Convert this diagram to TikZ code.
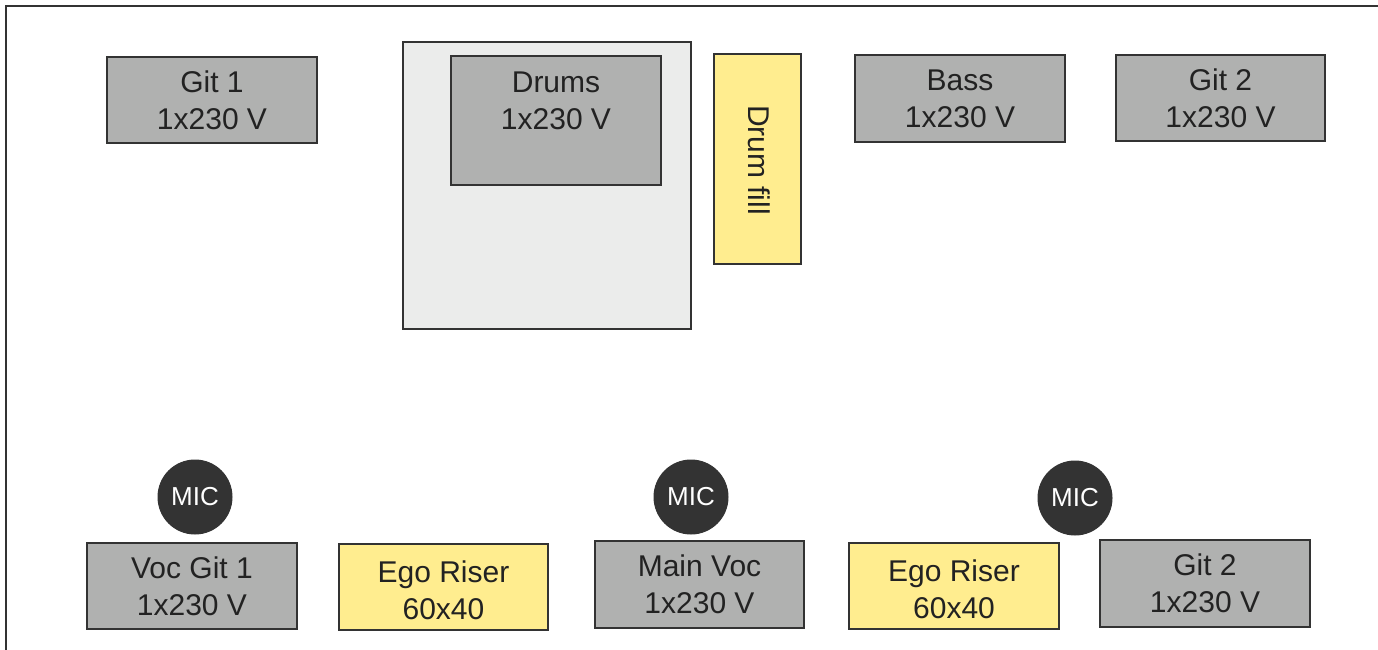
\documentclass[tikz,border=0pt]{standalone}
\usepackage{fontspec}
\setmainfont{Liberation Sans}
\definecolor{boxgray}{HTML}{B0B1B0}
\definecolor{rise}{HTML}{EBECEB}
\definecolor{fillyel}{HTML}{FFED8F}
\definecolor{edge}{HTML}{333333}
\definecolor{micfill}{HTML}{333333}
\definecolor{txt}{HTML}{222222}
\tikzset{
  base/.style={draw=edge, line width=1.4pt, inner sep=0pt, text=txt,
    font=\fontsize{30}{37}\selectfont, align=center},
  amp/.style={base, fill=boxgray, rectangle},
  yel/.style={base, fill=fillyel, rectangle},
  micnode/.style={draw=edge, line width=1pt, fill=micfill, circle, minimum size=74pt,
    inner sep=0pt, text=white, font=\fontsize{26}{30}\selectfont},
}
\begin{document}
\begin{tikzpicture}[x=1pt,y=-1pt]
\useasboundingbox (0,0) rectangle (1378,650);
\fill[white] (0,0) rectangle (1378,650);
\coordinate (tr) at (1378,6);
\coordinate (tl) at (6,6);
\coordinate (bl) at (6,650);
\draw[edge, line width=1.4pt] (tr) -- (tl) -- (bl);

\node[base, fill=rise, minimum width=288pt, minimum height=287pt] (riser) at (547,185.5) {};
\node[amp, minimum width=210pt, minimum height=129pt] (drums) at (556,120.5) {};
\node[text=txt, font=\fontsize{30}{37}\selectfont, align=center, inner sep=0pt] (drumstxt) at (556,100.5) {Drums\\1x230 V};

\node[amp, minimum width=210pt, minimum height=86pt] (git1) at (212,100) {Git 1\\1x230 V};
\node[yel, minimum width=87pt, minimum height=210pt] (drumfill) at (757.5,159) {};
\node[text=txt, font=\fontsize{30}{37}\selectfont, rotate=-90, inner sep=0pt] (drumfilltxt) at (759,160) {Drum fill};
\node[amp, minimum width=210pt, minimum height=87pt] (bass) at (960,98.5) {Bass\\1x230 V};
\node[amp, minimum width=209pt, minimum height=86pt] (git2t) at (1220.5,98) {Git 2\\1x230 V};

\node[micnode] (mic1) at (195,497) {MIC};
\node[micnode] (mic2) at (691,497) {MIC};
\node[micnode] (mic3) at (1075,498) {MIC};

\node[amp, minimum width=210pt, minimum height=86pt] (vocgit1) at (192,586) {Voc Git 1\\1x230 V};
\node[yel, minimum width=209pt, minimum height=86pt] (ego1) at (443.5,587) {};
\node[text=txt, font=\fontsize{30}{37}\selectfont, align=center, inner sep=0pt] (ego1txt) at (443.5,590) {Ego Riser\\60x40};
\node[amp, minimum width=209pt, minimum height=87pt] (mainvoc) at (699.5,584.5) {Main Voc\\1x230 V};
\node[yel, minimum width=210pt, minimum height=86pt] (ego2) at (954,586) {};
\node[text=txt, font=\fontsize{30}{37}\selectfont, align=center, inner sep=0pt] (ego2txt) at (954,589) {Ego Riser\\60x40};
\node[amp, minimum width=210pt, minimum height=87pt] (git2b) at (1205,583.5) {Git 2\\1x230 V};
\end{tikzpicture}
\end{document}
